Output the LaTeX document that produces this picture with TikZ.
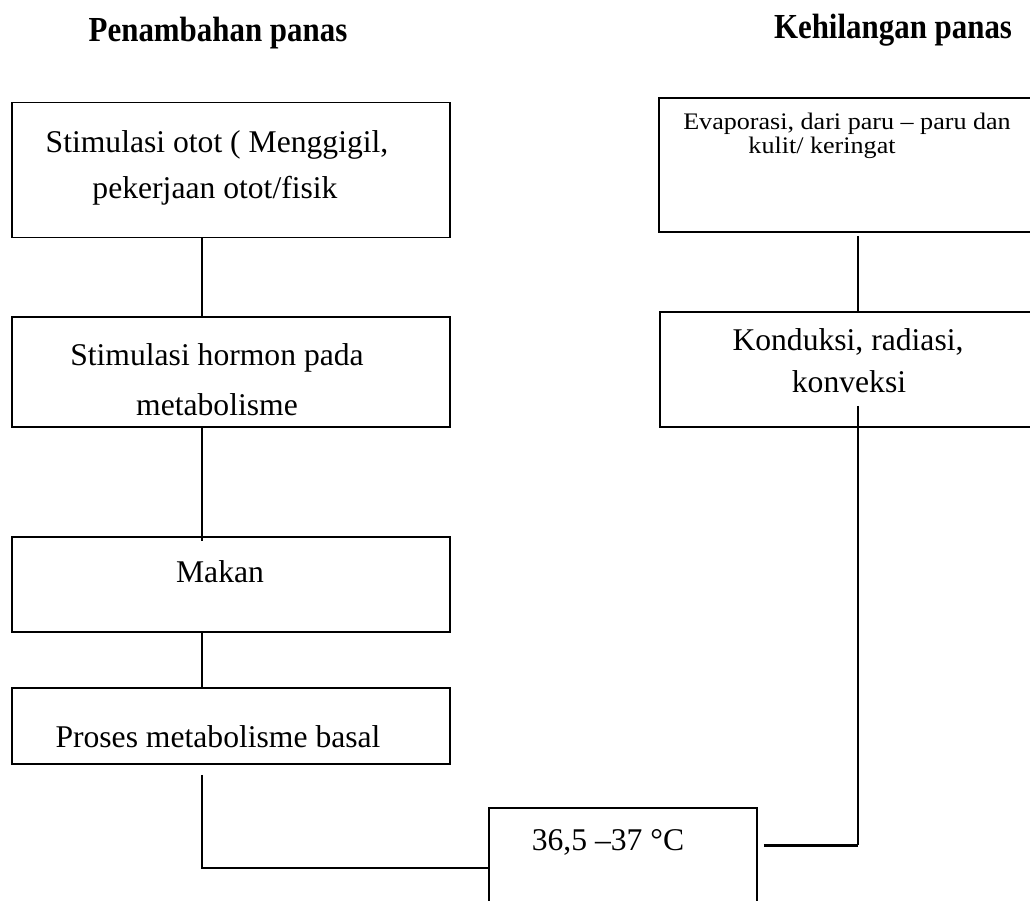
\documentclass[tikz,border=0pt]{standalone}
\usepackage{fontspec}
\setmainfont{Liberation Serif}
\usetikzlibrary{calc}

\tikzset{
  x=0.02cm, y=-0.02cm,
  box/.style={draw, line width=1.1pt, rectangle, inner sep=0pt},
  link/.style={draw, line width=1.1pt},
  heavylink/.style={draw, line width=1.7pt},
  body/.style={font=\fontsize{18}{21}\selectfont, align=center, inner sep=0pt},
  small/.style={font=\fontsize{13.5}{15}\selectfont, align=center, inner sep=0pt},
  head/.style={font=\fontsize{20}{23}\selectfont\bfseries, inner sep=0pt}
}
\newcommand{\condensed}[1]{\scalebox{0.88}[1]{#1}}
\newcommand{\widened}[1]{\scalebox{1.1}[1]{#1}}

\begin{document}
\begin{tikzpicture}
  \useasboundingbox (0,0) rectangle (1030,900);
  \clip (0,0) rectangle (1030,900);

  % column headings
  \node[head] (hgain) at (218,33) {\condensed{Penambahan panas}};
  \node[head] (hloss) at (893,30) {\condensed{Kehilangan panas}};

  % heat gain column
  \node[box, minimum width=8.78cm, minimum height=2.7cm] (b1) at (231,170) {};
  \node[body] (t1a) at (217,145) {Stimulasi otot ( Menggigil,};
  \node[body] (t1b) at (215,191) {pekerjaan otot/fisik};

  \node[box, minimum width=8.78cm, minimum height=2.2cm] (b2) at (231,372) {};
  \node[body] (t2a) at (217,358) {Stimulasi hormon pada};
  \node[body] (t2b) at (217,405) {metabolisme};

  \node[box, minimum width=8.78cm, minimum height=1.9cm] (b3) at (231,584.5) {};
  \node[body] (t3) at (220,572) {Makan};

  \node[box, minimum width=8.78cm, minimum height=1.52cm] (b4) at (231,726) {};
  \node[body] (t4) at (218,737) {Proses metabolisme basal};

  % heat loss column
  \node[box, minimum width=7.64cm, minimum height=2.68cm] (evap) at (850,165) {};
  \node[small] (t5a) at (847,124) {\widened{Evaporasi, dari paru -- paru dan}};
  \node[small] (t5b) at (822,148) {\widened{kulit/ keringat}};

  \node[box, minimum width=7.6cm, minimum height=2.3cm] (kond) at (850,369.5) {};
  \node[body] (t6a) at (848,342) {Konduksi, radiasi,};
  \node[body] (t6b) at (849,382) {konveksi};

  % body temperature
  \node[box, minimum width=5.36cm, minimum height=2.04cm] (temp) at (623,859) {};
  \node[body] (t7) at (608,842) {36,5 --37 °C};

  % joints of the connectors
  \coordinate (spine) at (202,0);
  \coordinate (lj) at (202,868);
  \coordinate (rj) at (858,845);

  % connectors
  \draw[link] (b1.south -| spine) -- (b2.north -| spine);
  \draw[link] (b2.south -| spine) -- ([yshift=-0.1cm]b3.north -| spine);
  \draw[link] (b3.south -| spine) -- (b4.north -| spine);
  \draw[link] ([yshift=-0.2cm]b4.south -| lj) -- (lj) -- (lj -| temp.west);

  \draw[link] ([yshift=-0.06cm]evap.south -| rj) -- (kond.north -| rj);
  \draw[link] ([yshift=0.44cm]kond.south -| rj) -- (rj);
  \draw[heavylink] ([xshift=0.12cm]temp.east |- rj) -- (rj);
\end{tikzpicture}
\end{document}
